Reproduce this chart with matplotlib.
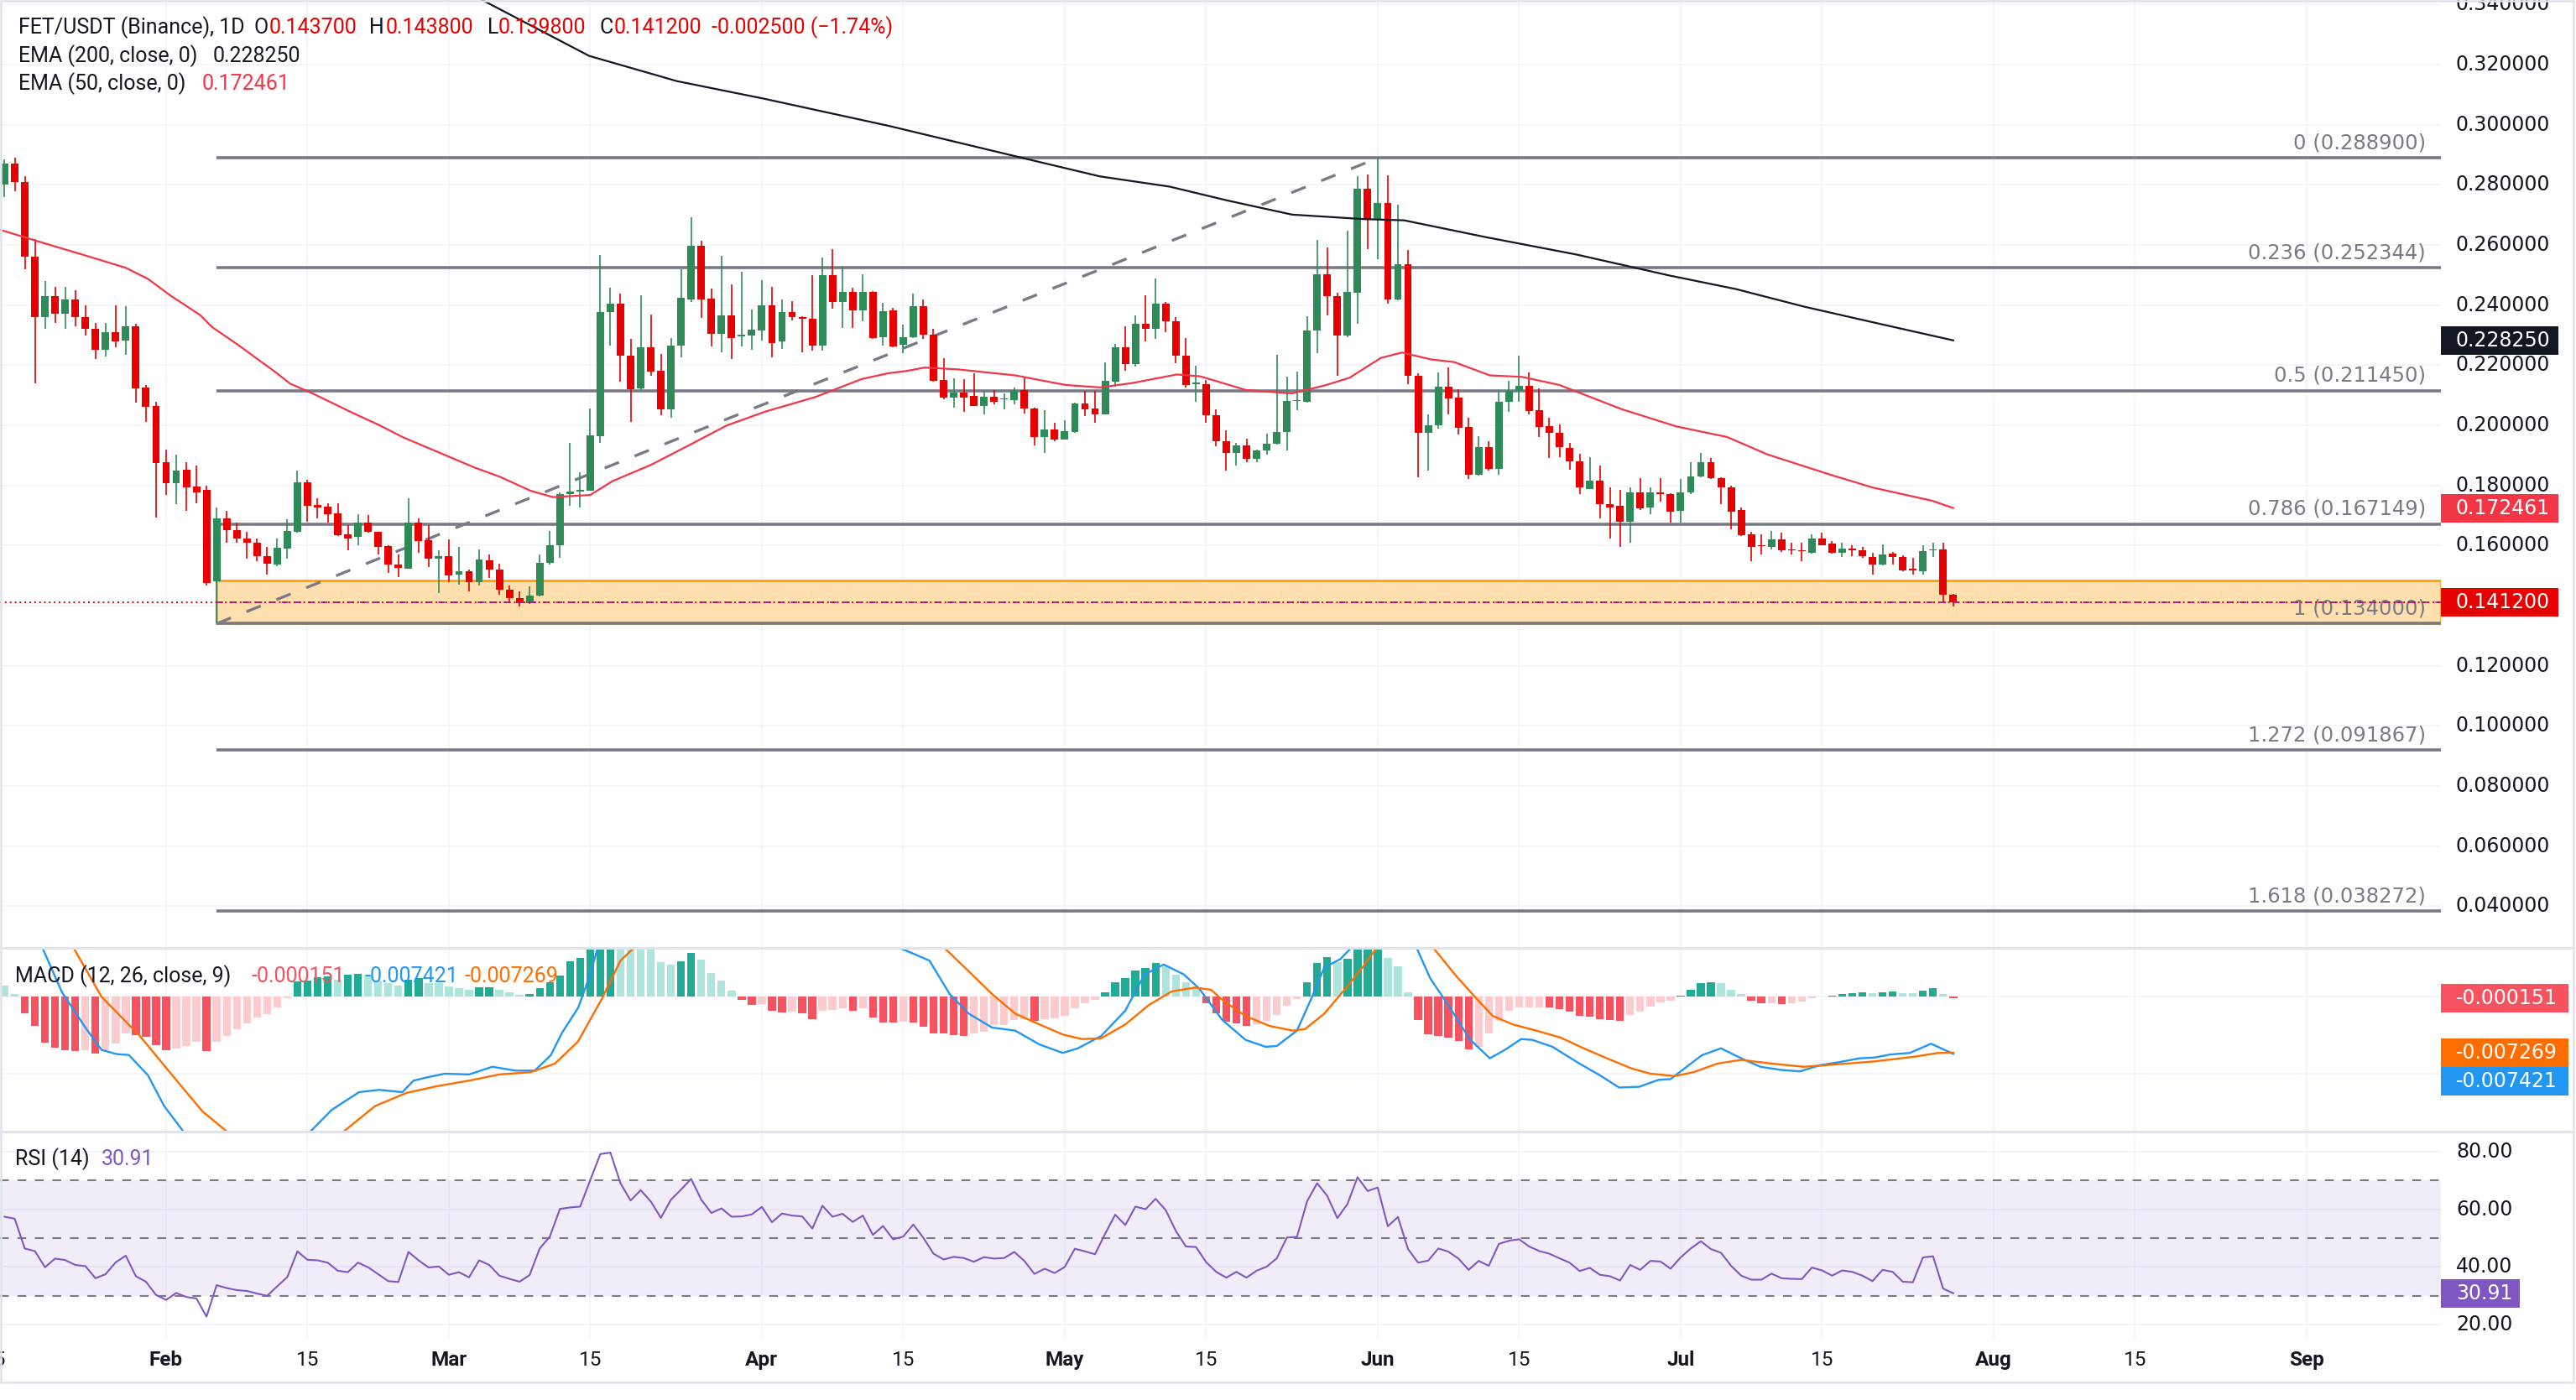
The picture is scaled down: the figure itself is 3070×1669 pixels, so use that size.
import numpy as np
import matplotlib
matplotlib.use("Agg")
import matplotlib.pyplot as plt
from matplotlib.patches import Rectangle
from matplotlib.lines import Line2D

plt.rcParams["font.family"] = ["Roboto", "DejaVu Sans"]

# ── data (day 0 = 1 Feb, one candle per day) ───────────────────────────────
start_day = -16

opens = [
    0.280, 0.287, 0.281, 0.256, 0.236, 0.243, 0.237, 0.242, 0.236, 0.232,
    0.225, 0.231, 0.2283, 0.2328, 0.2126, 0.2064, 0.1878, 0.1808, 0.1851, 0.1796,
    0.1784, 0.1481, 0.1691, 0.1651, 0.1622, 0.1608, 0.1565, 0.1536, 0.1591, 0.1645,
    0.1811, 0.1735, 0.1730, 0.1708, 0.1637, 0.1628, 0.1677, 0.1645, 0.1597, 0.1536,
    0.1524, 0.1675, 0.1617, 0.1557, 0.1565, 0.1504, 0.1513, 0.1477, 0.1550, 0.1521,
    0.1454, 0.1426, 0.1407, 0.1434, 0.1542, 0.1602, 0.1770, 0.1779, 0.1782, 0.1964,
    0.2376, 0.2404, 0.2233, 0.2123, 0.2259, 0.2182, 0.2054, 0.2265, 0.2420, 0.2597,
    0.2421, 0.2305, 0.2366, 0.2296, 0.2298, 0.2316, 0.2400, 0.2278, 0.2376, 0.2361,
    0.2354, 0.2264, 0.2499, 0.2411, 0.2443, 0.2383, 0.2443, 0.2293, 0.2382, 0.2267,
    0.2293, 0.2396, 0.2301, 0.2151, 0.2091, 0.2109, 0.2097, 0.2064, 0.2095, 0.2086,
    0.2085, 0.2116, 0.2057, 0.1960, 0.1986, 0.1953, 0.1978, 0.2073, 0.2056, 0.2037,
    0.2146, 0.2259, 0.2204, 0.2338, 0.2320, 0.2405, 0.2347, 0.2233, 0.2137, 0.2137,
    0.2033, 0.1948, 0.1908, 0.1934, 0.1888, 0.1917, 0.1938, 0.1977, 0.2080, 0.2077,
    0.2314, 0.2502, 0.2430, 0.2298, 0.2441, 0.2788, 0.2686, 0.2740, 0.2418, 0.2537,
    0.2165, 0.1974, 0.1999, 0.2129, 0.2092, 0.1994, 0.1834, 0.1927, 0.1856, 0.2077,
    0.2115, 0.2131, 0.2050, 0.1997, 0.1974, 0.1925, 0.1879, 0.1787, 0.1816, 0.1739,
    0.1732, 0.1680, 0.1777, 0.1726, 0.1778, 0.1771, 0.1716, 0.1776, 0.1830, 0.1878,
    0.1824, 0.1793, 0.1717, 0.1637, 0.1600, 0.1594, 0.1620, 0.1586, 0.1585, 0.1577,
    0.1622, 0.1606, 0.1577, 0.1591, 0.1583, 0.1562, 0.1536, 0.1573, 0.1562, 0.1521,
    0.1515, 0.1583, 0.1587, 0.1437,
]
highs = [
    0.2885, 0.289, 0.283, 0.262, 0.248, 0.246, 0.246, 0.245, 0.240, 0.234,
    0.234, 0.240, 0.2396, 0.2337, 0.2133, 0.2077, 0.1918, 0.1902, 0.1878, 0.1865,
    0.1799, 0.1726, 0.1716, 0.1677, 0.1645, 0.1622, 0.1596, 0.1624, 0.1687, 0.1849,
    0.1819, 0.1756, 0.1740, 0.1740, 0.1669, 0.1704, 0.1701, 0.1646, 0.1602, 0.1570,
    0.1756, 0.1689, 0.1669, 0.1583, 0.1620, 0.1594, 0.1521, 0.1587, 0.1570, 0.1539,
    0.1466, 0.1446, 0.1463, 0.1570, 0.1649, 0.1776, 0.1941, 0.1844, 0.2057, 0.2566,
    0.2457, 0.2439, 0.2287, 0.2432, 0.2368, 0.2236, 0.2290, 0.2520, 0.2693, 0.2615,
    0.2455, 0.2564, 0.2469, 0.2510, 0.2386, 0.2483, 0.2461, 0.2420, 0.2413, 0.2362,
    0.2499, 0.2559, 0.2586, 0.2527, 0.2457, 0.2502, 0.2447, 0.2408, 0.2391, 0.2335,
    0.2439, 0.2419, 0.2321, 0.2224, 0.2155, 0.2153, 0.2174, 0.2115, 0.2117, 0.2106,
    0.2125, 0.2161, 0.2059, 0.2051, 0.2008, 0.2016, 0.2074, 0.2115, 0.2115, 0.2209,
    0.2272, 0.2328, 0.2366, 0.2432, 0.2489, 0.2410, 0.2360, 0.2291, 0.2198, 0.2152,
    0.2054, 0.1983, 0.1941, 0.1955, 0.1920, 0.1971, 0.2235, 0.2163, 0.2178, 0.2362,
    0.2617, 0.2591, 0.2441, 0.2647, 0.2829, 0.2834, 0.2889, 0.2831, 0.2733, 0.2583,
    0.2172, 0.2036, 0.2175, 0.2193, 0.2121, 0.2025, 0.1963, 0.1947, 0.2117, 0.2148,
    0.2231, 0.2175, 0.2123, 0.2026, 0.2004, 0.1940, 0.1905, 0.1894, 0.1865, 0.1793,
    0.1785, 0.1793, 0.1824, 0.1793, 0.1824, 0.1775, 0.1821, 0.1878, 0.1907, 0.1892,
    0.1828, 0.1798, 0.1726, 0.1645, 0.1638, 0.1649, 0.1643, 0.1610, 0.1610, 0.1638,
    0.1643, 0.1616, 0.1610, 0.1602, 0.1594, 0.1577, 0.1605, 0.1579, 0.1568, 0.1558,
    0.1602, 0.1608, 0.1608, 0.1438,
]
lows = [
    0.276, 0.278, 0.252, 0.214, 0.232, 0.234, 0.232, 0.233, 0.230, 0.222,
    0.223, 0.226, 0.2235, 0.2074, 0.2012, 0.1694, 0.1767, 0.1739, 0.1716, 0.1741,
    0.1468, 0.1340, 0.1608, 0.1608, 0.1556, 0.1548, 0.1502, 0.1532, 0.1556, 0.1644,
    0.1680, 0.1691, 0.1677, 0.1631, 0.1583, 0.1602, 0.1643, 0.1571, 0.1510, 0.1496,
    0.1522, 0.1576, 0.1529, 0.1443, 0.1477, 0.1469, 0.1446, 0.1466, 0.1492, 0.1437,
    0.1415, 0.1398, 0.1406, 0.1432, 0.1536, 0.1559, 0.1733, 0.1726, 0.1781, 0.1941,
    0.2264, 0.2144, 0.2010, 0.2117, 0.2166, 0.2033, 0.2025, 0.2227, 0.2409, 0.2357,
    0.2261, 0.2244, 0.2221, 0.2261, 0.2250, 0.2281, 0.2227, 0.2253, 0.2349, 0.2244,
    0.2247, 0.2247, 0.2387, 0.2325, 0.2325, 0.2346, 0.2287, 0.2264, 0.2260, 0.2239,
    0.2291, 0.2287, 0.2146, 0.2086, 0.2059, 0.2046, 0.2063, 0.2037, 0.2071, 0.2054,
    0.2069, 0.2040, 0.1934, 0.1909, 0.1947, 0.1952, 0.1975, 0.2030, 0.2008, 0.2036,
    0.2128, 0.2180, 0.2194, 0.2279, 0.2288, 0.2310, 0.2206, 0.2126, 0.2078, 0.2008,
    0.1931, 0.1848, 0.1867, 0.1878, 0.1878, 0.1902, 0.1936, 0.1915, 0.2051, 0.2074,
    0.2241, 0.2366, 0.2166, 0.2294, 0.2339, 0.2586, 0.2553, 0.2406, 0.2417, 0.2136,
    0.1828, 0.1848, 0.1990, 0.2036, 0.1969, 0.1822, 0.1833, 0.1848, 0.1836, 0.2046,
    0.2079, 0.2036, 0.1960, 0.1890, 0.1895, 0.1851, 0.1772, 0.1787, 0.1689, 0.1622,
    0.1596, 0.1608, 0.1718, 0.1704, 0.1747, 0.1677, 0.1677, 0.1770, 0.1826, 0.1820,
    0.1739, 0.1654, 0.1631, 0.1548, 0.1571, 0.1587, 0.1579, 0.1571, 0.1548, 0.1573,
    0.1600, 0.1573, 0.1562, 0.1565, 0.1559, 0.1504, 0.1535, 0.1536, 0.1513, 0.1504,
    0.1504, 0.1562, 0.1411, 0.1398,
]
closes = [
    0.287, 0.281, 0.256, 0.236, 0.243, 0.237, 0.242, 0.236, 0.232, 0.225,
    0.231, 0.228, 0.2328, 0.2123, 0.2062, 0.1875, 0.1808, 0.1849, 0.1793, 0.1778,
    0.1476, 0.1691, 0.1651, 0.1622, 0.1608, 0.1565, 0.1539, 0.1593, 0.1649, 0.1811,
    0.1733, 0.1726, 0.1705, 0.1635, 0.1624, 0.1675, 0.1645, 0.1594, 0.1536, 0.1525,
    0.1675, 0.1616, 0.1557, 0.1565, 0.1500, 0.1513, 0.1477, 0.1554, 0.1521, 0.1454,
    0.1426, 0.1407, 0.1434, 0.1542, 0.1602, 0.1770, 0.1779, 0.1784, 0.1967, 0.2376,
    0.2404, 0.2231, 0.2121, 0.2259, 0.2178, 0.2054, 0.2265, 0.2423, 0.2597, 0.2418,
    0.2305, 0.2366, 0.2291, 0.2301, 0.2319, 0.2400, 0.2274, 0.2376, 0.2359, 0.2354,
    0.2264, 0.2499, 0.2411, 0.2443, 0.2383, 0.2443, 0.2291, 0.2380, 0.2262, 0.2293,
    0.2395, 0.2301, 0.2148, 0.2091, 0.2109, 0.2093, 0.2064, 0.2095, 0.2079, 0.2088,
    0.2116, 0.2057, 0.1960, 0.1986, 0.1953, 0.1981, 0.2073, 0.2054, 0.2035, 0.2148,
    0.2259, 0.2204, 0.2338, 0.2320, 0.2405, 0.2347, 0.2233, 0.2134, 0.2139, 0.2033,
    0.1948, 0.1908, 0.1934, 0.1888, 0.1917, 0.1938, 0.1977, 0.2081, 0.2084, 0.2315,
    0.2502, 0.2430, 0.2298, 0.2443, 0.2788, 0.2686, 0.2740, 0.2418, 0.2537, 0.2165,
    0.1974, 0.2001, 0.2129, 0.2089, 0.1993, 0.1834, 0.1927, 0.1856, 0.2077, 0.2115,
    0.2131, 0.2048, 0.1994, 0.1974, 0.1927, 0.1879, 0.1793, 0.1816, 0.1739, 0.1727,
    0.1680, 0.1777, 0.1724, 0.1777, 0.1772, 0.1712, 0.1778, 0.1831, 0.1878, 0.1824,
    0.1793, 0.1712, 0.1634, 0.1594, 0.1598, 0.1620, 0.1583, 0.1583, 0.1581, 0.1622,
    0.1602, 0.1577, 0.1591, 0.1585, 0.1565, 0.1536, 0.1570, 0.1562, 0.1518, 0.1518,
    0.1581, 0.1586, 0.1437, 0.1412,
]

ema200_days = [31.3, 41.9, 50.6, 59.3, 71.6, 86.0, 92.5, 99.4, 105.1, 111.5,
               118.6, 122.6, 130.7, 139.7, 148.8, 155.5, 162.2, 169.0, 177]
ema200_vals = [0.3415, 0.3229, 0.3145, 0.3086, 0.2996, 0.2880, 0.2828, 0.2794, 0.2748, 0.2701,
               0.2686, 0.2682, 0.2626, 0.2568, 0.2499, 0.2453, 0.2395, 0.2343, 0.22825]

ema50_days = [-16.4, -12, -8, -4.0, -1.8, 0.5, 3.4, 4.5, 7.1, 10.9, 12.3, 14.5, 18.3, 21.2,
              23.4, 27.9, 30.5, 33.1, 36.1, 38.3, 42.0, 44.2, 48.0, 51.7, 55.5, 59.3, 64.3,
              68.9, 71.5, 73.4, 75.1, 78.4, 84.1, 89.1, 92.5, 95.6, 100.1, 102.4, 107.0,
              111.5, 114.9, 117.2, 120.3, 122.4, 125.3, 127.6, 131.1, 134.3, 138.0, 144.2,
              149.6, 154.6, 158.6, 164.5, 169.0, 174.9, 177]
ema50_vals = [0.2650, 0.2605, 0.2565, 0.2524, 0.2487, 0.2430, 0.2366, 0.2328, 0.2268, 0.2175,
              0.2138, 0.2106, 0.2044, 0.1999, 0.1961, 0.1897, 0.1860, 0.1828, 0.1782, 0.1761,
              0.1768, 0.1814, 0.1868, 0.1932, 0.1999, 0.2045, 0.2094, 0.2154, 0.2173, 0.2181,
              0.2192, 0.2186, 0.2166, 0.2134, 0.2126, 0.2140, 0.2169, 0.2163, 0.2117, 0.2106,
              0.2134, 0.2158, 0.2224, 0.2242, 0.2219, 0.2210, 0.2166, 0.2161, 0.2134, 0.2053,
              0.1996, 0.1961, 0.1903, 0.1839, 0.1793, 0.1749, 0.172461]

fib_ratios = ["0", "0.236", "0.5", "0.786", "1", "1.272", "1.618"]
fib_prices = [0.2889, 0.252344, 0.21145, 0.167149, 0.134, 0.091867, 0.038272]
zone_low, zone_high = 0.134, 0.1483

macd_hist = [
    0.00145, 0.00036, -0.00214, -0.00382, -0.00593, -0.00662, -0.00698, -0.00702, -0.00691, -0.00734,
    -0.00698, -0.00607, -0.00473, -0.00494, -0.00516, -0.00625, -0.00691, -0.00669, -0.00636, -0.00589,
    -0.00702, -0.00589, -0.00509, -0.00418, -0.00342, -0.00273, -0.00225, -0.00134, -0.00015, 0.00204,
    0.00211, 0.00254, 0.00262, 0.00225, 0.00284, 0.00302, 0.00291, 0.00211, 0.00182, 0.00145,
    0.00222, 0.00244, 0.00182, 0.00180, 0.00131, 0.00109, 0.00095, 0.00120, 0.00124, 0.00091,
    0.00055, 0.00029, 0.00036, 0.00109, 0.00193, 0.00273, 0.00458, 0.00505, 0.0065, 0.0078,
    0.0088, 0.0084, 0.0076, 0.0068, 0.0062, 0.0045, 0.0042, 0.00465, 0.0057, 0.0048,
    0.0031, 0.0021, 0.0008, -0.00036, -0.00102, -0.00095, -0.00182, -0.00200, -0.00198, -0.00218,
    -0.00291, -0.00182, -0.00171, -0.00153, -0.00182, -0.00153, -0.00273, -0.00335, -0.00338, -0.00320,
    -0.00335, -0.00393, -0.00473, -0.00480, -0.00502, -0.00505, -0.00473, -0.00455, -0.00371, -0.00364,
    -0.00298, -0.00295, -0.00316, -0.00291, -0.00284, -0.00247, -0.00153, -0.00080, -0.00036, 0.00058,
    0.00189, 0.00247, 0.00338, 0.00375, 0.00436, 0.00400, 0.00291, 0.00189, 0.00109, -0.00084,
    -0.00211, -0.00320, -0.00345, -0.00374, -0.00356, -0.00309, -0.00236, -0.00116, -0.00029, 0.00189,
    0.00436, 0.00516, 0.00454, 0.00491, 0.0075, 0.0085, 0.0090, 0.00502, 0.00393, 0.00055,
    -0.00298, -0.00483, -0.00509, -0.00527, -0.00574, -0.00683, -0.00654, -0.00473, -0.00309, -0.00182,
    -0.00138, -0.00135, -0.00134, -0.00138, -0.00156, -0.00193, -0.00247, -0.00262, -0.00291, -0.00298,
    -0.00309, -0.00236, -0.00193, -0.00127, -0.00073, -0.00047, 0.00018, 0.00091, 0.00175, 0.00189,
    0.00175, 0.00091, 0.00036, -0.00047, -0.00084, -0.00080, -0.00095, -0.00080, -0.00062, -0.00018,
    0.00007, 0.00018, 0.00036, 0.00047, 0.00055, 0.00047, 0.00058, 0.00069, 0.00051, 0.00048,
    0.00084, 0.00113, 0.00036, -0.000151,
]

macd_days = [-16, -14, -12.2, -10.3, -8.0, -6.4, -4.9, -3.7, -1.8, -0.2, 1.7, 4, 8, 12, 14.3,
             16.4, 19.1, 21.1, 23.4, 24.5, 26.1, 27.6, 30.0, 32.3, 34.6, 36.5, 38.1, 39.2, 40.8,
             41.9, 42.7, 45, 50, 55, 60, 65, 70, 72.9, 73.3, 75.6, 77.6, 79.5, 81.8, 84.1, 86.5,
             88.8, 90.3, 92.6, 95.0, 96.9, 98.8, 100.8, 102.3, 104.6, 106.9, 108.9, 110.0, 112.0,
             113.5, 114.7, 116.3, 117.4, 119, 120.5, 122, 123.9, 125.2, 127.2, 129.1, 131.1,
             132.6, 134.2, 135.3, 137.3, 140.0, 142.0, 143.9, 145.9, 147.8, 149.0, 152.1, 154.0,
             156.0, 157.9, 159.9, 161.8, 163.8, 165.7, 167.7, 169.2, 170.8, 172.7, 174.8, 177]
macd_vals = [0.0160, 0.0110, 0.0062, 0.00055, -0.0040, -0.0069, -0.00745, -0.00756, -0.0102,
             -0.0142, -0.0175, -0.0195, -0.0205, -0.0190, -0.0175, -0.0147, -0.0124, -0.0121,
             -0.0124, -0.0109, -0.0104, -0.0100, -0.0101, -0.0091, -0.0096, -0.0096, -0.0076,
             -0.0047, -0.00145, 0.0025, 0.0062, 0.0100, 0.0115, 0.0120, 0.0110, 0.0095, 0.0075,
             0.0062, 0.0060, 0.0047, 0.00036, -0.0022, -0.0040, -0.0044, -0.0062, -0.0073,
             -0.0067, -0.0051, -0.0018, 0.0029, 0.0042, 0.0029, 0.0011, -0.0030, -0.0056,
             -0.0065, -0.0064, -0.0044, 0.0, 0.0038, 0.0049, 0.0064, 0.0085, 0.0095, 0.0085,
             0.0062, 0.0024, -0.0015, -0.0055, -0.0080, -0.0069, -0.0055, -0.0056, -0.0065,
             -0.0087, -0.0102, -0.0118, -0.0117, -0.0108, -0.0107, -0.0076, -0.0067, -0.0080,
             -0.0091, -0.0095, -0.0097, -0.0089, -0.0085, -0.0080, -0.0079, -0.0075, -0.0073,
             -0.0061, -0.007421]

signal_days = [-16, -12, -9.1, -6.4, -2.6, 1.3, 3.6, 6.0, 9, 12, 15, 17.6, 20.7, 23.8, 26.9,
               30.0, 33.0, 36.1, 38.5, 40.8, 43.1, 45.0, 46.2, 50, 55, 60, 65, 70, 74, 77.2,
               79.5, 81.8, 84.1, 86.5, 88.8, 90.7, 92.6, 95.0, 97.3, 99.6, 101.9, 103.5, 104.6,
               106.9, 109.3, 111.6, 112.8, 114.7, 116.7, 118.6, 119.8, 121.5, 123.5, 125.6,
               127.9, 129.9, 131.4, 133.4, 135.7, 138.1, 140.4, 142.7, 145.1, 147.0, 149.4,
               151.3, 153.6, 156.0, 159.1, 162.2, 165.3, 169.2, 173.1, 175.5, 177]
signal_vals = [0.0150, 0.0100, 0.0062, 0.0, -0.0051, -0.0113, -0.0149, -0.0175, -0.0190,
               -0.0195, -0.0188, -0.0175, -0.0142, -0.0125, -0.0116, -0.0109, -0.0101, -0.0098,
               -0.0087, -0.0058, -0.0004, 0.0047, 0.0062, 0.0095, 0.0115, 0.0125, 0.0120,
               0.0105, 0.0085, 0.0062, 0.0033, 0.00036, -0.0022, -0.0036, -0.0049, -0.0055,
               -0.0054, -0.0036, -0.0011, 0.0007, 0.0012, 0.0009, -0.0004, -0.0025, -0.0038,
               -0.0044, -0.0042, -0.0022, 0.0009, 0.0040, 0.0062, 0.0075, 0.0072, 0.0062,
               0.0025, -0.0004, -0.0025, -0.0036, -0.0044, -0.0053, -0.0067, -0.0080, -0.0093,
               -0.0100, -0.0103, -0.0098, -0.0087, -0.0082, -0.0087, -0.0091, -0.0088, -0.0084,
               -0.0078, -0.0073, -0.007269]

rsi = [
    57.4, 56.7, 46.4, 45.5, 39.9, 42.9, 42.4, 40.7, 40.3, 36.1,
    37.5, 41.6, 43.9, 36.8, 34.9, 30.3, 28.6, 31.0, 29.6, 29.1,
    22.8, 33.7, 32.7, 32.0, 31.7, 30.8, 30.0, 33.3, 36.5, 45.4,
    42.5, 42.3, 41.5, 38.7, 38.2, 41.5, 39.9, 37.5, 35.1, 34.8,
    45.2, 42.3, 39.8, 40.2, 37.3, 38.2, 36.4, 42.3, 40.7, 37.0,
    35.9, 34.9, 37.2, 46.4, 50.5, 60.1, 60.6, 60.9, 70.0, 79.1,
    79.6, 69.0, 63.0, 66.6, 62.7, 57.0, 63.3, 66.8, 70.5, 63.3,
    58.7, 60.3, 57.4, 57.5, 58.2, 60.8, 55.5, 58.5, 57.8, 57.5,
    53.3, 61.2, 57.4, 58.4, 55.6, 57.8, 51.1, 54.2, 49.6, 50.5,
    54.7, 50.1, 44.6, 42.6, 43.5, 43.1, 41.8, 43.4, 42.9, 43.1,
    45.2, 42.1, 37.6, 39.4, 37.9, 40.0, 46.3, 45.4, 44.4, 51.5,
    58.1, 54.5, 60.9, 60.0, 63.6, 59.7, 52.5, 47.1, 46.9, 41.7,
    38.3, 36.3, 38.3, 36.3, 38.7, 40.1, 43.0, 50.2, 50.4, 62.7,
    69.0, 64.6, 56.9, 61.8, 71.1, 66.3, 67.5, 54.1, 57.3, 46.2,
    41.5, 42.2, 46.4, 45.3, 42.9, 39.0, 42.1, 40.4, 48.0, 49.1,
    49.6, 47.1, 45.5, 44.6, 43.0, 41.5, 38.6, 39.7, 37.3, 36.8,
    35.3, 40.7, 39.0, 42.1, 41.9, 39.4, 43.3, 46.4, 48.9, 46.2,
    44.9, 40.4, 37.0, 35.6, 35.6, 37.7, 36.1, 35.9, 35.8, 39.8,
    38.8, 37.0, 38.8, 38.3, 37.0, 35.1, 39.0, 38.3, 34.9, 34.7,
    43.3, 43.7, 32.5, 30.91,
]

tick_days = [-17, 0, 14, 28, 42, 59, 73, 89, 103, 120, 134, 150, 164, 181, 195, 212]
tick_labels = ["15", "Feb", "15", "Mar", "15", "Apr", "15", "May", "15", "Jun", "15",
               "Jul", "15", "Aug", "15", "Sep"]

price_ticks = np.round(np.arange(0.04, 0.341, 0.02), 2)
rsi_ticks = [20, 40, 60, 80]
macd_ticks = [0.0, -0.01]

# ── style ──────────────────────────────────────────────────────────────────
W, H, DPI = 3070, 1669, 100
PLOT_RIGHT = 2909
GREEN, RED = "#2e8b57", "#e60000"
GRID, BORDER, TXT, FIB = "#f0f3fa", "#e0e3eb", "#131722", "#787b86"
SCALE_FONT = ["DejaVu Sans"]
AX_FS, FIB_FS, LEG_FS, DATE_FS = 17.0, 17.5, 18.0, 17.5


def fx(px):
    return px / W


def fy(py):
    return 1 - py / H


fig = plt.figure(figsize=(W / DPI, H / DPI), dpi=DPI, facecolor="white")
ax = fig.add_axes([0, fy(1129), fx(PLOT_RIGHT), 1129 / H])
ax_m = fig.add_axes([0, fy(1348), fx(PLOT_RIGHT), (1348 - 1131) / H])
ax_r = fig.add_axes([0, fy(1596), fx(PLOT_RIGHT), (1596 - 1350) / H])

XLIM = (-16.455, 225.3)
for a in (ax, ax_m, ax_r):
    a.set_xlim(*XLIM)
    a.axis("off")
    for d in tick_days:
        a.axvline(d, color=GRID, lw=1.1, zorder=0)
ax.set_ylim(0.0264, 0.3415)
ax_m.set_ylim(-0.017415, 0.006249)
ax_r.set_ylim(15.14, 86.59)

for p in price_ticks:
    ax.axhline(p, color=GRID, lw=1.1, zorder=0)
for v in macd_ticks:
    ax_m.axhline(v, color=GRID, lw=1.3, zorder=0)
for r in rsi_ticks:
    ax_r.axhline(r, color=GRID, lw=1.3, zorder=0)

# ── price panel ───────────────────────────────────────────────────────────
o, h, l, c = (np.array(v) for v in (opens, highs, lows, closes))
days = np.arange(start_day, start_day + len(c))
col = np.where(c >= o, GREEN, RED)

anchor_day = days[np.argmin(l)]
after = days >= anchor_day
peak_day = days[after][np.argmax(h[after])]

ax.add_patch(Rectangle((anchor_day, zone_low), XLIM[1] - anchor_day, zone_high - zone_low,
                       facecolor="#ffdfae", edgecolor="#ff9800", lw=1.8, zorder=1))
ax.hlines(fib_prices, anchor_day, XLIM[1], color=FIB, lw=2.6, zorder=2)
for r, p in zip(fib_ratios, fib_prices):
    ax.annotate(f"{r} ({p:.6f})", xy=(2891 / PLOT_RIGHT, p), xycoords=("axes fraction", "data"),
                xytext=(0, 6), textcoords="offset pixels", ha="right", va="bottom",
                color=FIB, fontsize=FIB_FS, family=SCALE_FONT)
ax.plot([anchor_day, peak_day], [fib_prices[4], fib_prices[0]], color=FIB, lw=2.4,
        dashes=(5.5, 6), zorder=2)

ax.vlines(days, l, h, colors=col, lw=1.2, zorder=4)
ax.bar(days, np.maximum(np.abs(c - o), 0.0004), bottom=np.minimum(o, c), width=0.74,
       color=col, lw=0, zorder=5)

ax.plot(ema50_days, ema50_vals, color="#f23645", lw=1.6, zorder=6)
ax.plot(ema200_days, ema200_vals, color=TXT, lw=1.6, zorder=6)

ax.hlines((zone_low + zone_high) / 2, anchor_day, XLIM[1], color="#9c27b0", lw=1.4,
          linestyles=(0, (4, 4)), zorder=6)
ax.axhline(c[-1], color=RED, lw=1.4, ls=(0, (1, 2)), zorder=7)

# ── MACD panel ────────────────────────────────────────────────────────────
hist = np.array(macd_hist)
prev = np.r_[np.inf, hist[:-1]]
hcol = np.where(hist >= 0, np.where(hist > prev, "#22ab94", "#ace5dc"),
                np.where(hist < prev, "#f7525f", "#fccbcd"))
ax_m.bar(days, hist, width=0.78, color=hcol, lw=0, zorder=2)
ax_m.plot(macd_days, macd_vals, color="#2196f3", lw=1.7, zorder=3)
ax_m.plot(signal_days, signal_vals, color="#ff6d00", lw=1.7, zorder=4)

# ── RSI panel ─────────────────────────────────────────────────────────────
ax_r.axhspan(30, 70, color="#7e57c2", alpha=0.1, lw=0, zorder=1)
for lvl in (70, 50, 30):
    ax_r.axhline(lvl, color=FIB, lw=1.5, dashes=(5, 5), zorder=2)
ax_r.plot(days, rsi, color="#7e57c2", lw=1.5, zorder=3)


# ── right-hand scale and tags ─────────────────────────────────────────────
def y_px(a, v):
    return a.transData.transform((0, v))[1]


def tag(yc, text, color, right_px):
    fig.add_artist(Rectangle((fx(PLOT_RIGHT), (yc - 17) / H), (right_px - PLOT_RIGHT) / W, 34 / H,
                             transform=fig.transFigure, facecolor=color, edgecolor="none",
                             zorder=20))
    fig.text(fx(2927), yc / H, text, color="white", fontsize=AX_FS, va="center", ha="left",
             family=SCALE_FONT, zorder=21)


for p in price_ticks:
    fig.text(fx(2927), y_px(ax, p) / H, f"{p:.6f}", color=TXT, fontsize=AX_FS, va="center",
             family=SCALE_FONT)
for r in rsi_ticks:
    fig.text(fx(2927), y_px(ax_r, r) / H, f"{r:.2f}", color=TXT, fontsize=AX_FS, va="center",
             family=SCALE_FONT)

tag(y_px(ax, ema200_vals[-1]), f"{ema200_vals[-1]:.6f}", TXT, 3049)
tag(y_px(ax, ema50_vals[-1]), f"{ema50_vals[-1]:.6f}", "#f23645", 3049)
tag(y_px(ax, c[-1]), f"{c[-1]:.6f}", RED, 3049)
tag(y_px(ax_m, hist[-1]), f"{hist[-1]:.6f}", "#f7525f", 3061)
ys = y_px(ax_m, signal_vals[-1])
tag(ys, f"{signal_vals[-1]:.6f}", "#ff6d00", 3061)
tag(ys - 34, f"{macd_vals[-1]:.6f}", "#2196f3", 3061)
tag(y_px(ax_r, rsi[-1]), f"{rsi[-1]:.2f}", "#7e57c2", 3003)

# ── date axis ─────────────────────────────────────────────────────────────
for d, s in zip(tick_days, tick_labels):
    xpix = ax.transData.transform((d, 0))[0]
    fig.text(xpix / W, fy(1621), s, color=TXT, fontsize=DATE_FS, ha="center", va="center",
             fontweight="normal" if s.isdigit() else "bold")

# ── legends ───────────────────────────────────────────────────────────────
chg = c[-1] - c[-2]
line1 = [(22, "FET/USDT (Binance), 1D", TXT), (303, "O", TXT), (321, f"{o[-1]:.6f}", RED),
         (440, "H", TXT), (460, f"{h[-1]:.6f}", RED), (581, "L", TXT),
         (594, f"{l[-1]:.6f}", RED), (714, "C", TXT), (732, f"{c[-1]:.6f}", RED),
         (848, f"{chg:.6f} (\u2212{abs(chg) / c[-2] * 100:.2f}%)", RED)]
for x, s, colr in line1:
    fig.text(fx(x), fy(33), s, color=colr, fontsize=LEG_FS, va="center")
fig.text(fx(22), fy(67), "EMA (200, close, 0)", color=TXT, fontsize=LEG_FS, va="center")
fig.text(fx(254), fy(67), f"{ema200_vals[-1]:.6f}", color=TXT, fontsize=LEG_FS, va="center")
fig.text(fx(22), fy(100), "EMA (50, close, 0)", color=TXT, fontsize=LEG_FS, va="center")
fig.text(fx(241), fy(100), f"{ema50_vals[-1]:.6f}", color="#f23645", fontsize=LEG_FS,
         va="center")

fig.text(fx(18), fy(1164), "MACD (12, 26, close, 9)", color=TXT, fontsize=LEG_FS, va="center")
fig.text(fx(299), fy(1164), f"{hist[-1]:.6f}", color="#f7525f", fontsize=LEG_FS, va="center")
fig.text(fx(434), fy(1164), f"{macd_vals[-1]:.6f}", color="#2196f3", fontsize=LEG_FS,
         va="center")
fig.text(fx(554), fy(1164), f"{signal_vals[-1]:.6f}", color="#ff6d00", fontsize=LEG_FS,
         va="center")
fig.text(fx(18), fy(1382), "RSI (14)", color=TXT, fontsize=LEG_FS, va="center")
fig.text(fx(121), fy(1382), f"{rsi[-1]:.2f}", color="#7e57c2", fontsize=LEG_FS, va="center")

# ── frame and pane separators ─────────────────────────────────────────────
for yp in (1130, 1349):
    fig.add_artist(Line2D([0, fx(3067)], [fy(yp)] * 2, color=BORDER, lw=2.2, zorder=15))
fig.add_artist(Rectangle((fx(1), fy(1648)), fx(3066), 1647 / H, transform=fig.transFigure,
                         fill=False, edgecolor=BORDER, lw=1.8, zorder=15))

fig.savefig("out.png", dpi=DPI, facecolor="white")
